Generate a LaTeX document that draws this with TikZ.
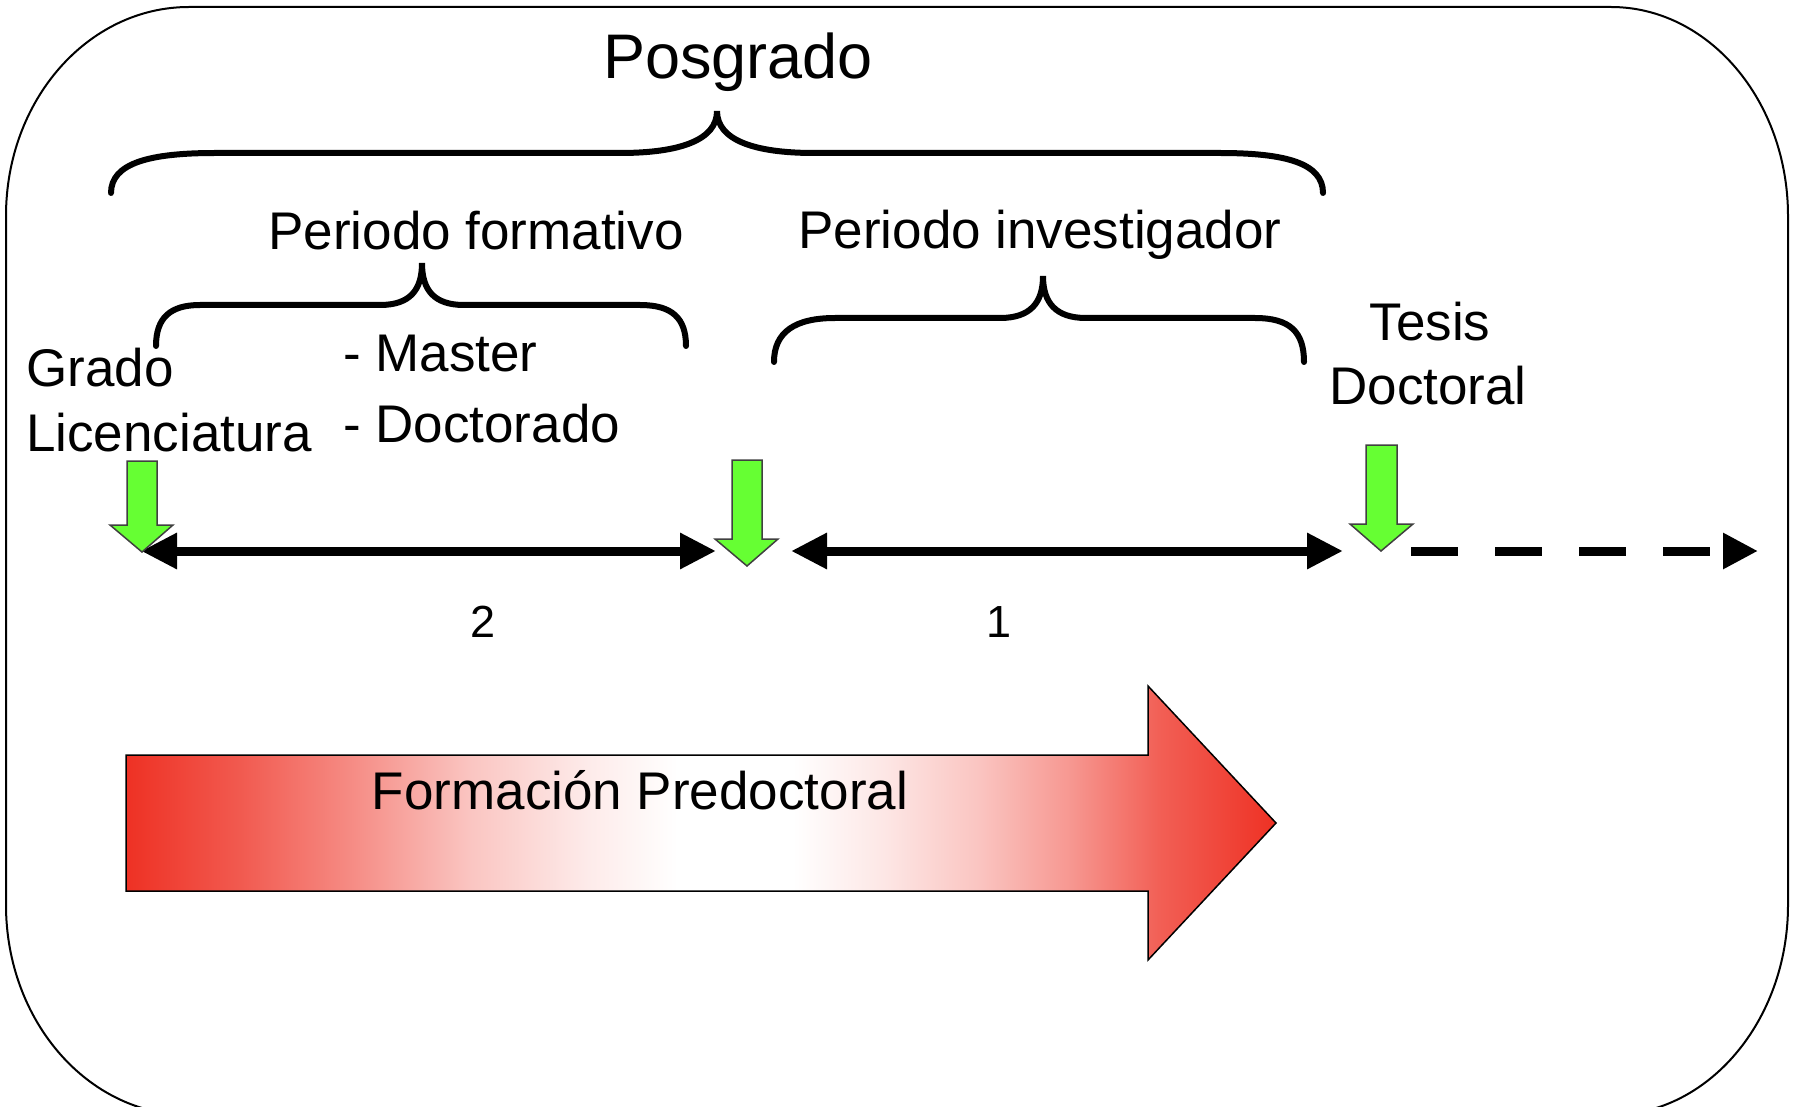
\documentclass[tikz,border=0pt]{standalone}
\usepackage{fontspec}
\setmainfont{Liberation Sans}
\usetikzlibrary{arrows.meta}
\definecolor{predred}{RGB}{238,49,36}
\definecolor{markgreen}{RGB}{102,255,51}
\pgfdeclarehorizontalshading{predshade}{100bp}{color(0bp)=(predred); color(25bp)=(predred); color(30bp)=(predred!80!white); color(35bp)=(predred!55!white); color(40bp)=(predred!28!white); color(45bp)=(predred!10!white); color(49bp)=(white); color(54bp)=(white); color(58bp)=(predred!12!white); color(62bp)=(predred!28!white); color(66bp)=(predred!50!white); color(70bp)=(predred!78!white); color(75bp)=(predred); color(100bp)=(predred)}
\tikzset{
  bigtext/.style={font=\fontsize{63}{70}\selectfont,inner sep=0pt},
  midtext/.style={font=\fontsize{53}{60}\selectfont,inner sep=0pt},
  numtext/.style={font=\fontsize{45}{50}\selectfont,inner sep=0pt},
  curly/.style={line width=6pt,line cap=round},
  periodspan/.style={line width=9pt,{Triangle[length=36pt,width=34pt]}-{Triangle[length=36pt,width=34pt]}},
  greenmark/.style={fill=markgreen,draw=black!75,line width=1.5pt},
}
\begin{document}
\begin{tikzpicture}[x=1pt,y=-1pt]
  \useasboundingbox (0,0) rectangle (1799,1107);
  \clip (0,0) rectangle (1799,1107);
  % frame
  \draw[line width=2pt](6,216) .. controls (6,100) and (88,7) .. (189,7) -- (1611,7)
    .. controls (1708,7) and (1788,100) .. (1788,216) -- (1788,905)
    .. controls (1788,1021) and (1708,1115) .. (1611,1115) -- (189,1115)
    .. controls (88,1115) and (6,1021) .. (6,905) -- cycle;
  % posgrado
  \node[bigtext,anchor=base] at(738,79)(posgrado){Posgrado};
  \draw[curly](111,193) .. controls (111,163) and (150,153) .. (215,153) -- (620,153)
    .. controls (680,153) and (717,140) .. (717,111)
    .. controls (717,140) and (754,153) .. (814,153) -- (1220,153)
    .. controls (1285,153) and (1323,163) .. (1323,193);
  % periodo formativo
  \node[midtext,anchor=base] at(476,250)(formativo){Periodo formativo};
  \draw[curly](156,346) .. controls (156,318) and (170,305) .. (200,305) -- (380,305)
    .. controls (410,305) and (422,290) .. (422,263)
    .. controls (422,290) and (434,305) .. (464,305) -- (640,305)
    .. controls (672,305) and (686,318) .. (686,346);
  \node[midtext,anchor=base west] at(343,371)(master){- Master};
  \node[midtext,anchor=base west] at(343,442)(doctorado){- Doctorado};
  % periodo investigador
  \node[midtext,anchor=base] at(1040,249)(investigador){Periodo investigador};
  \draw[curly](774,362) .. controls (774,332) and (795,318) .. (835,318) -- (1000,318)
    .. controls (1030,318) and (1043,303) .. (1043,276)
    .. controls (1043,303) and (1056,318) .. (1086,318) -- (1255,318)
    .. controls (1290,318) and (1304,332) .. (1304,362);
  % grado
  \node[midtext,anchor=base west] at(26,386)(grado){Grado};
  \node[midtext,anchor=base west] at(26,451)(licenciatura){Licenciatura};
  % tesis
  \node[midtext,anchor=base] at(1430,341)(tesis){Tesis};
  \node[midtext,anchor=base] at(1428,404)(doctoral){Doctoral};
  % timeline
  \coordinate (a1) at(141,551);
  \coordinate (a2) at(716,551);
  \coordinate (b1) at(791,551);
  \coordinate (b2) at(1343,551);
  \coordinate (c1) at(1411,551);
  \coordinate (c2) at(1758,551);
  \draw[periodspan](a1) -- (a2);
  \draw[periodspan](b1) -- (b2);
  \draw[line width=9pt,dash pattern=on 47pt off 37pt,-{Triangle[length=35pt,width=34pt]}](c1) -- (c2);
  \node[numtext,anchor=base] at(483,637)(years2){2};
  \node[numtext,anchor=base] at(999,637)(years1){1};
  % green markers
  \draw[greenmark](127,461) -- (157,461) -- (157,525) -- (173,525) -- (142,552) -- (110,525) -- (127,525) -- cycle;
  \draw[greenmark](732,460) -- (762,460) -- (762,539) -- (778,539) -- (747,566) -- (715,539) -- (732,539) -- cycle;
  \draw[greenmark](1366,445) -- (1397,445) -- (1397,524) -- (1413,524) -- (1381,551) -- (1350,524) -- (1366,524) -- cycle;
  % formacion predoctoral
  \draw[line width=1.5pt,shading=predshade](126,755) -- (1148,755) -- (1148,686) -- (1276,823)
    -- (1148,960) -- (1148,891) -- (126,891) -- cycle;
  \node[midtext,anchor=base] at(640,809)(predoctoral){Formación Predoctoral};
\end{tikzpicture}
\end{document}
